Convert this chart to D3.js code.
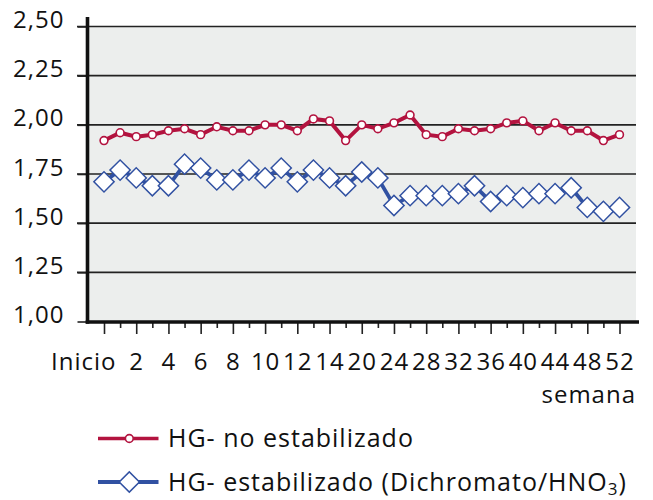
<!DOCTYPE html>
<html>
<head>
<meta charset="utf-8">
<script src="https://cdn.jsdelivr.net/npm/d3@7"></script>
<style>
  html, body { margin: 0; padding: 0; background: #fff; }
  svg { display: block; }
  text { font-family: "Open Sans", "Noto Sans", sans-serif; fill: #111; letter-spacing: 1px; }
</style>
</head>
<body>
<svg id="chart" width="653" height="500"></svg>
<script>
// ---- data ----
const weeks = ["Inicio","1","2","3","4","5","6","7","8","9","10","11","12","13","14","16",
               "20","22","24","26","28","30","32","34","36","38","40","42","44","46","48","50","52"];
const xTickLabels = ["Inicio","2","4","6","8","10","12","14","20","24","28","32","36","40","44","48","52"];
const noEstabilizado = [1.92,1.96,1.94,1.95,1.97,1.98,1.95,1.99,1.97,1.97,2.00,2.00,1.97,2.03,2.02,1.92,
                        2.00,1.98,2.01,2.05,1.95,1.94,1.98,1.97,1.98,2.01,2.02,1.97,2.01,1.97,1.97,1.92,1.95];
const estabilizado = [1.71,1.77,1.73,1.69,1.69,1.80,1.78,1.72,1.72,1.77,1.73,1.78,1.71,1.77,1.73,1.69,
                      1.76,1.73,1.59,1.64,1.64,1.64,1.65,1.69,1.61,1.64,1.63,1.65,1.65,1.68,1.58,1.56,1.58];
const yTicks = [1.00,1.25,1.50,1.75,2.00,2.25,2.50];
const seriesNames = ["HG- no estabilizado","HG- estabilizado (Dichromato/HNO","3",")"];

// ---- layout ----
const svg = d3.select("#chart");
const RED = "#b3133f", BLUE = "#3151a2", BG = "#eceeed";
const x = d3.scalePoint().domain(weeks).range([104, 619.5]);
const y = d3.scaleLinear().domain([1, 2.5]).range([321.5, 26.5]);
const plotLeft = 88, plotRight = 636, axisX = 87.5, axisY = 322;

// background
svg.append("rect").attr("x", plotLeft).attr("y", y(2.5))
  .attr("width", plotRight - plotLeft).attr("height", y(1) - y(2.5)).attr("fill", BG);

// gridlines
svg.append("g").selectAll("line").data(yTicks.filter(t => t > 1)).join("line")
  .attr("x1", 77).attr("x2", plotRight).attr("y1", d => y(d)).attr("y2", d => y(d))
  .attr("stroke", "#222").attr("stroke-width", 1.6);

// y axis
const fmt = d3.format(".2f");
const yAxis = svg.append("g").attr("transform", `translate(${axisX},0)`)
  .call(d3.axisLeft(y).tickValues(yTicks).tickSize(10).tickPadding(13)
        .tickFormat(d => fmt(d).replace(".", ",")));
yAxis.select(".domain").remove();
yAxis.selectAll(".tick line").attr("stroke", "#222").attr("stroke-width", 1.6);
yAxis.selectAll(".tick text").attr("dy", "1px").style("font-size", "24px")
  .style("font-family", '"Open Sans", sans-serif').attr("fill", "#111");

// x axis
const xAxis = svg.append("g").attr("transform", `translate(0,${axisY})`)
  .call(d3.axisBottom(x).tickSize(12).tickSizeOuter(0)
        .tickFormat(d => xTickLabels.includes(d) && weeks.indexOf(d) % 2 === 0 ? d : ""));
xAxis.select(".domain").remove();
xAxis.selectAll(".tick line")
  .attr("y2", (d) => weeks.indexOf(d) % 2 === 0 ? 12 : 6)
  .attr("stroke", "#222").attr("stroke-width", 1.6);
xAxis.selectAll(".tick text").attr("y", 48).attr("dy", 0)
  .style("font-size", "24px").style("font-family", '"Open Sans", sans-serif').attr("fill", "#111")
  .filter(d => d === "Inicio").attr("text-anchor", "end").attr("x", 12);

// axis lines
svg.append("line").attr("x1", axisX).attr("x2", axisX).attr("y1", 17).attr("y2", axisY + 1.8)
  .attr("stroke", "#111").attr("stroke-width", 3.6);
svg.append("line").attr("x1", axisX - 1.8).attr("x2", 639).attr("y1", axisY).attr("y2", axisY)
  .attr("stroke", "#111").attr("stroke-width", 3.6);

svg.append("text").attr("x", 636).attr("y", 403).attr("text-anchor", "end")
  .style("font-size", "24px").text("semana");

// series
const line = d3.line().x((d, i) => x(weeks[i])).y(d => y(d));
const diamond = d3.symbol().type(d3.symbolSquare).size(205);

svg.append("path").datum(estabilizado).attr("d", line)
  .attr("fill", "none").attr("stroke", BLUE).attr("stroke-width", 3.8);
svg.append("g").selectAll("path").data(estabilizado).join("path")
  .attr("d", diamond)
  .attr("transform", (d, i) => `translate(${x(weeks[i])},${y(d)}) rotate(45)`)
  .attr("fill", "#fff").attr("stroke", BLUE).attr("stroke-width", 1.5);

svg.append("path").datum(noEstabilizado).attr("d", line)
  .attr("fill", "none").attr("stroke", RED).attr("stroke-width", 4);
svg.append("g").selectAll("circle").data(noEstabilizado).join("circle")
  .attr("cx", (d, i) => x(weeks[i])).attr("cy", d => y(d)).attr("r", 3.9)
  .attr("fill", "#fff").attr("stroke", RED).attr("stroke-width", 1.6);

// legend
const lg = svg.append("g");
lg.append("line").attr("x1", 98).attr("x2", 158.5).attr("y1", 438.5).attr("y2", 438.5)
  .attr("stroke", RED).attr("stroke-width", 3.4);
lg.append("circle").attr("cx", 129.3).attr("cy", 438.5).attr("r", 3.9)
  .attr("fill", "#fff").attr("stroke", RED).attr("stroke-width", 1.6);
lg.append("text").attr("x", 168).attr("y", 447).style("font-size", "25px").text(seriesNames[0]);

lg.append("line").attr("x1", 98).attr("x2", 158.5).attr("y1", 482).attr("y2", 482)
  .attr("stroke", BLUE).attr("stroke-width", 4);
lg.append("path").attr("d", diamond)
  .attr("transform", "translate(129.3,482) rotate(45)")
  .attr("fill", "#fff").attr("stroke", BLUE).attr("stroke-width", 1.5);
const t2 = lg.append("text").attr("x", 168).attr("y", 491).style("font-size", "25px");
t2.append("tspan").text(seriesNames[1]);
t2.append("tspan").attr("dy", 4).style("font-size", "17px").text(seriesNames[2]);
t2.append("tspan").attr("dy", -4).text(seriesNames[3]);
</script>
</body>
</html>
